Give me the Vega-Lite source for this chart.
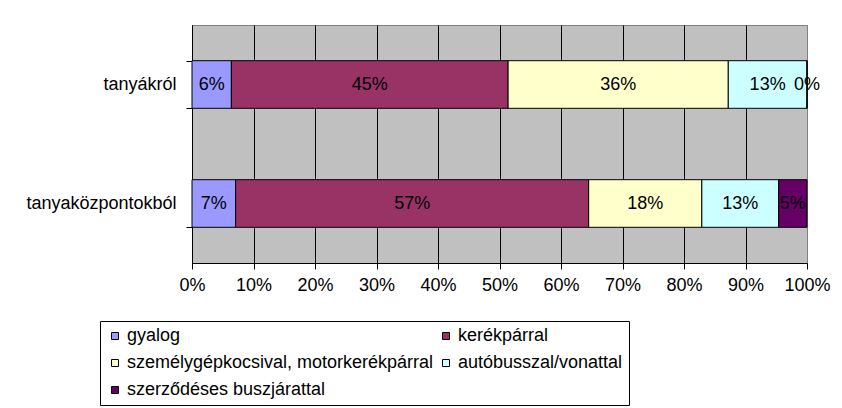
{
  "$schema": "https://vega.github.io/schema/vega-lite/v6.json",
  "width": 615,
  "height": 238,
  "autosize": {"type": "none"},
  "padding": {"left": 192, "top": 25, "right": 35, "bottom": 145},
  "background": "white",
  "config": {
    "font": "Liberation Sans",
    "view": {"fill": "#C0C0C0", "stroke": "#808080", "strokeWidth": 1}
  },
  "data": {
    "values": [
      {"group": "tanyákról", "mode": "gyalog", "share": 0.064},
      {"group": "tanyákról", "mode": "kerékpárral", "share": 0.45},
      {"group": "tanyákról", "mode": "személygépkocsival, motorkerékpárral", "share": 0.358},
      {"group": "tanyákról", "mode": "autóbusszal/vonattal", "share": 0.128},
      {"group": "tanyákról", "mode": "szerződéses buszjárattal", "share": 0.0},
      {"group": "tanyaközpontokból", "mode": "gyalog", "share": 0.071},
      {"group": "tanyaközpontokból", "mode": "kerékpárral", "share": 0.574},
      {"group": "tanyaközpontokból", "mode": "személygépkocsival, motorkerékpárral", "share": 0.184},
      {"group": "tanyaközpontokból", "mode": "autóbusszal/vonattal", "share": 0.125},
      {"group": "tanyaközpontokból", "mode": "szerződéses buszjárattal", "share": 0.046}
    ]
  },
  "transform": [
    {"calculate": "indexof(['gyalog','kerékpárral','személygépkocsival, motorkerékpárral','autóbusszal/vonattal','szerződéses buszjárattal'], datum.mode)", "as": "k"},
    {"stack": "share", "groupby": ["group"], "sort": [{"field": "k", "order": "ascending"}], "as": ["x0", "x1"]},
    {"calculate": "(datum.x0 + datum.x1) / 2", "as": "mid"}
  ],
  "encoding": {
    "y": {
      "field": "group",
      "type": "nominal",
      "sort": ["tanyákról", "tanyaközpontokból"],
      "scale": {"paddingInner": 0.6, "paddingOuter": 0.3},
      "axis": {
        "title": null,
        "tickBand": "extent",
        "grid": false,
        "domainColor": "black",
        "tickColor": "black",
        "tickSize": 6,
        "labelFontSize": 18,
        "labelColor": "black",
        "labelPadding": 10
      }
    }
  },
  "layer": [
    {
      "mark": {"type": "bar", "stroke": "black", "strokeWidth": 1},
      "encoding": {
        "x": {
          "field": "x0",
          "type": "quantitative",
          "scale": {"domain": [0, 1]},
          "axis": {
            "title": null,
            "values": [0, 0.1, 0.2, 0.3, 0.4, 0.5, 0.6, 0.7, 0.8, 0.9, 1],
            "format": ".0%",
            "grid": true,
            "gridColor": {"condition": {"test": "datum.value >= 1", "value": "#808080"}, "value": "black"},
            "gridOpacity": 1,
            "domainColor": "black",
            "tickColor": "black",
            "tickSize": 6,
            "labelFontSize": 18,
            "labelColor": "black",
            "labelPadding": 7,
            "labelFlush": false
          }
        },
        "x2": {"field": "x1"},
        "color": {
          "field": "mode",
          "type": "nominal",
          "scale": {
            "domain": ["gyalog", "kerékpárral", "személygépkocsival, motorkerékpárral", "autóbusszal/vonattal", "szerződéses buszjárattal"],
            "range": ["#9999FF", "#993366", "#FFFFCC", "#CCFFFF", "#660066"]
          },
          "legend": {
            "orient": "none",
            "direction": "horizontal",
            "legendX": -92,
            "legendY": 296,
            "title": null,
            "columns": 2,
            "gridAlign": "all",
            "symbolType": "square",
            "symbolSize": 49,
            "symbolStrokeColor": "black",
            "symbolStrokeWidth": 1,
            "symbolOpacity": 1,
            "labelFontSize": 18,
            "labelColor": "black",
            "labelLimit": 500,
            "labelOffset": 3,
            "columnPadding": 3,
            "rowPadding": 9,
            "padding": 6,
            "strokeColor": "black",
            "fillColor": "white"
          }
        }
      }
    },
    {
      "mark": {"type": "text", "fontSize": 18, "color": "black", "baseline": "middle", "align": "center"},
      "encoding": {
        "x": {"field": "mid", "type": "quantitative"},
        "text": {"field": "share", "type": "quantitative", "format": ".0%"}
      }
    }
  ]
}
